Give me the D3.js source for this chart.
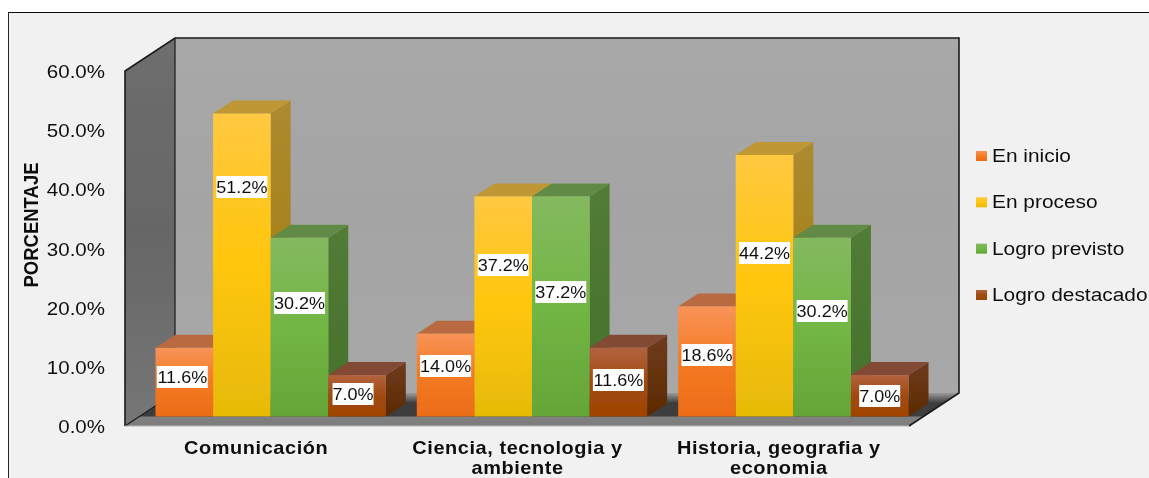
<!DOCTYPE html>
<html><head><meta charset="utf-8">
<script src="https://cdn.jsdelivr.net/npm/d3@7"></script>
<style>html,body{margin:0;padding:0;background:#fff;overflow:hidden}svg{display:block}text{font-family:"Liberation Sans",Arial,sans-serif;fill:#111}</style>
</head><body><svg id="c" width="1149" height="478"></svg>
<script>
const categories = ["Comunicación", "Ciencia, tecnologia y|ambiente", "Historia, geografia y|economia"];
const seriesNames = ["En inicio", "En proceso", "Logro previsto", "Logro destacado"];
const enInicio = [11.6, 14.0, 18.6];
const enProceso = [51.2, 37.2, 44.2];
const logroPrevisto = [30.2, 37.2, 30.2];
const logroDestacado = [7.0, 11.6, 7.0];
const seriesValues = [enInicio, enProceso, logroPrevisto, logroDestacado];
const yTicks = [0, 10, 20, 30, 40, 50, 60];

// style and layout, separate from data
const frontStops = [["#f89358","#f47a22","#ec6c18"],["#ffc840","#ffc60c","#e6ba06"],["#85b960","#72b644","#65a538"],["#b2623e","#a04a10","#a04400"]];
const sideStops = [["#a8623a","#96501c"],["#ac8a30","#a27a06"],["#527c36","#44702a"],["#6e3c1e","#5c2a00"]];
const topColors = ["#b96b40","#bf9734","#628a47","#824a34"];
const labelCY = [[377,366,355],[187,265,253],[303,292,311],[394,380,396]];
const labelCXShift = [[-2,0,0],[0,0,0],[0,0,0],[-4,0,0]];

const depth = {dx: 20, dy: -13};
const sx = 1.14;
const svg = d3.select("#c");
const defs = svg.append("defs");
const soft = defs.append("filter").attr("id","soft").attr("x",0).attr("y",0).attr("width","100%").attr("height","100%");
soft.append("feGaussianBlur").attr("stdDeviation",0.45);

function grad(id, stops, offs){
  const g = defs.append("linearGradient").attr("id",id).attr("x1",0).attr("y1",0).attr("x2",0).attr("y2",1);
  stops.forEach((c,i)=>g.append("stop").attr("offset",offs?offs[i]:i/(stops.length-1)).attr("stop-color",c));
}
frontStops.forEach((s,i)=>grad("f"+i,s,[0,0.5,1]));
sideStops.forEach((s,i)=>grad("s"+i,s));
grad("wall",["#a8a8a8","#a4a4a4","#a8a8a8"]);
grad("lwall",["#6e6e6e","#666666","#767676"]);
grad("floor",["#9a9a9a","#3e3e3e","#3e3e3e","#808080","#7c7c7c"],[0,0.3,0.705,0.72,1]);

// page background
svg.append("rect").attr("width",1149).attr("height",478).attr("fill","#fff");
const root = svg.append("g").attr("filter","url(#soft)");
root.append("rect").attr("x",8).attr("y",12).attr("width",1141).attr("height",466).attr("fill","#f1f1f1");
root.append("path").attr("d","M8,478V12H1149").attr("fill","none").attr("stroke","#111").attr("stroke-width",1.8);

const y = d3.scaleLinear().domain([0,60]).range([426,71]);
const yBar = v => y(v) - 9.5;
const x0 = d3.scaleBand().domain(categories).range([140,924]).paddingInner(0.1186).paddingOuter(0.0593);
const x1 = d3.scaleBand().domain(seriesNames).range([0,x0.bandwidth()]);

// walls and floor
const L=125,R=909,B=y(0),T=y(60);
root.append("polygon").attr("points",[[L+50,T-33],[R+50,T-33],[R+50,B-33],[L+50,B-33]].join(" ")).attr("fill","url(#wall)");
root.append("polygon").attr("points",[[L,T],[L+50,T-33],[L+50,B-33],[L,B]].join(" ")).attr("fill","url(#lwall)");
root.append("polygon").attr("points",[[L,B],[L+50,B-33],[R+50,B-33],[R,B]].join(" ")).attr("fill","url(#floor)");
root.append("path").attr("d",`M${L},${B}V${T}L${L+50},${T-33}H${R+50}V${B-33}L${R},${B}`).attr("fill","none").attr("stroke","#1a1a1a").attr("stroke-width",1.6);
root.append("path").attr("d",`M${L+50},${T-33}V${B-33}L${L},${B}`).attr("fill","none").attr("stroke","#1a1a1a").attr("stroke-width",1.2);
root.append("path").attr("d",`M${L},${B}H${R}`).attr("fill","none").attr("stroke","#b8b8b8").attr("stroke-width",1.2);

// bars
const bars = root.append("g");
categories.forEach((cat,ci)=>{
  seriesNames.forEach((name,si)=>{
    const v = seriesValues[si][ci];
    const xl = x0(cat)+x1(name), w = x1.bandwidth(), yt = yBar(v), yb = yBar(0);
    const g = bars.append("g");
    g.append("polygon").attr("points",[[xl+w,yt],[xl+w+depth.dx,yt+depth.dy],[xl+w+depth.dx,yb+depth.dy],[xl+w,yb]].join(" ")).attr("fill",`url(#s${si})`);
    g.append("polygon").attr("points",[[xl,yt],[xl+depth.dx,yt+depth.dy],[xl+w+depth.dx,yt+depth.dy],[xl+w,yt]].join(" ")).attr("fill",topColors[si]);
    g.append("rect").attr("x",xl).attr("y",yt).attr("width",w).attr("height",yb-yt).attr("fill",`url(#f${si})`);
  });
});

// data labels
const fmt = v => v.toFixed(1)+"%";
categories.forEach((cat,ci)=>{
  seriesNames.forEach((name,si)=>{
    const v = seriesValues[si][ci];
    const cx = x0(cat)+x1(name)+x1.bandwidth()/2 + labelCXShift[si][ci];
    const cy = labelCY[si][ci];
    const ww = v<10 ? 41 : 51;
    root.append("rect").attr("x",cx-ww/2).attr("y",cy-11).attr("width",ww).attr("height",22).attr("fill","#fff");
    root.append("text").attr("transform",`translate(${cx},${cy+6}) scale(1.06,1)`).attr("text-anchor","middle").attr("font-size",17).text(fmt(v));
  });
});

// y axis
const axis = root.append("g").attr("transform","translate(105,0)").call(d3.axisLeft(y).tickValues(yTicks).tickFormat(d=>d.toFixed(1)+"%").tickSize(0).tickPadding(0));
axis.select(".domain").remove();
axis.selectAll("text").attr("x",null).attr("dy",null).attr("transform",`translate(0,6.5) scale(${sx},1)`).attr("font-size",18).attr("font-family",null).style("text-anchor","end");

root.append("text").attr("transform",`translate(38,225) rotate(-90) scale(1,${sx})`).attr("text-anchor","middle").attr("font-size",18.5).attr("font-weight","bold").text("PORCENTAJE");

// category labels
categories.forEach(cat=>{
  const cx = x0(cat)+x0.bandwidth()/2-14.5;
  cat.split("|").forEach((line,i)=>{
    root.append("text").attr("transform",`translate(${cx},${454+i*20.2}) scale(${sx},1)`).attr("text-anchor","middle").attr("font-size",17.5).attr("font-weight","bold").attr("letter-spacing",0.5).text(line);
  });
});

// legend
const ly = d3.scalePoint().domain(seriesNames).range([156,295]);
seriesNames.forEach((name,si)=>{
  root.append("rect").attr("x",976).attr("y",ly(name)-5).attr("width",11).attr("height",10).attr("fill",`url(#f${si})`);
  root.append("text").attr("transform",`translate(992,${ly(name)+6}) scale(1.16,1)`).attr("font-size",18).text(name);
});
</script></body></html>
